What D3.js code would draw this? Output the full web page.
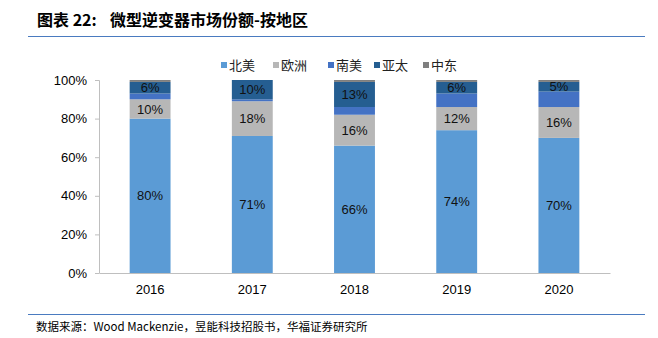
<!DOCTYPE html>
<html>
<head>
<meta charset="utf-8">
<script src="https://cdn.jsdelivr.net/npm/d3@7"></script>
<style>
body { margin: 0; background: #fff; }
svg { display: block; }
.tick text { font-family: "Liberation Sans", Arial, sans-serif; font-size: 13px; fill: #000; }
</style>
</head>
<body>
<svg width="658" height="338"></svg>
<script>
var years = ["2016", "2017", "2018", "2019", "2020"];
var seriesNames = ["北美", "欧洲", "南美", "亚太", "中东"];
var northAmerica = [80, 71, 66, 74, 70];
var europe = [10, 18, 16, 12, 16];
var southAmerica = [3, 1, 4, 7, 8];
var asiaPacific = [6, 10, 13, 6, 5];
var middleEast = [1, 0, 1, 1, 1];
var yTicks = [0, 20, 40, 60, 80, 100];
var colours = ["#5b9bd5", "#b7b7b7", "#4472c4", "#255e91", "#7f7f7f"];
var labelled = [true, true, false, true, false];

var svg = d3.select("svg");
var margin = { top: 80, left: 99, right: 48, bottom: 65 };
var width = 658 - margin.left - margin.right,
    height = 338 - margin.top - margin.bottom;

// title
svg.append("text")
    .attr("x", 37).attr("y", 26)
    .style("font-family", "'Noto Sans CJK SC', sans-serif")
    .style("font-size", "16px").style("font-weight", "bold")
    .text("图表 22:");
svg.append("text")
    .attr("x", 110).attr("y", 26)
    .style("font-family", "'Noto Sans CJK SC', sans-serif")
    .style("font-size", "16px").style("font-weight", "bold")
    .text("微型逆变器市场份额-按地区");
svg.append("line")
    .attr("x1", 28).attr("x2", 645).attr("y1", 36.5).attr("y2", 36.5)
    .attr("stroke", "#4a7bc0").attr("stroke-width", 1.2);
svg.append("line")
    .attr("x1", 28).attr("x2", 645).attr("y1", 314.5).attr("y2", 314.5)
    .attr("stroke", "#4a7bc0").attr("stroke-width", 1.2);
svg.append("text")
    .attr("x", 36).attr("y", 331)
    .style("font-family", "'Noto Sans CJK SC', sans-serif")
    .style("font-size", "11.5px")
    .text("数据来源：Wood Mackenzie，昱能科技招股书，华福证券研究所");

var rows = years.map(function (y, i) {
    return { year: y, "北美": northAmerica[i], "欧洲": europe[i], "南美": southAmerica[i], "亚太": asiaPacific[i], "中东": middleEast[i] };
});
var stacked = d3.stack().keys(seriesNames)(rows);

var x = d3.scaleBand().domain(years).range([0, width]).paddingInner(0.6).paddingOuter(0.3);
var y = d3.scaleLinear().domain([0, 100]).range([height, 0]);

var g = svg.append("g").attr("transform", "translate(" + margin.left + "," + margin.top + ")");

var yAxis = g.append("g")
    .call(d3.axisLeft(y).tickValues(yTicks).tickSize(4).tickPadding(8).tickFormat(function (d) { return d + "%"; }));
yAxis.select(".domain").attr("stroke", "#bfbfbf").attr("d", "M-4,0.5H0.5V" + (height + 0.5));
yAxis.selectAll(".tick line").attr("stroke", "#bfbfbf");

var xAxis = g.append("g").attr("transform", "translate(0," + height + ")")
    .call(d3.axisBottom(x).tickSize(0).tickPadding(12));
xAxis.select(".domain").attr("stroke", "#bfbfbf");

var layer = g.selectAll(".layer").data(stacked).enter().append("g")
    .attr("fill", function (d, i) { return colours[i]; });
layer.selectAll("rect").data(function (d) { return d; }).enter().append("rect")
    .attr("x", function (d) { return x(d.data.year); })
    .attr("width", x.bandwidth())
    .attr("y", function (d) { return y(d[1]); })
    .attr("height", function (d) { return y(d[0]) - y(d[1]); });

layer.filter(function (d, i) { return labelled[i]; })
    .selectAll("text").data(function (d) { return d; }).enter().append("text")
    .attr("x", function (d) { return x(d.data.year) + x.bandwidth() / 2; })
    .attr("y", function (d) { return (y(d[0]) + y(d[1])) / 2; })
    .attr("dy", "0.36em")
    .attr("text-anchor", "middle")
    .attr("fill", "#111")
    .style("font-family", "'Liberation Sans', Arial, sans-serif")
    .style("font-size", "13px")
    .text(function (d) { return Math.round(d[1] - d[0]) + "%"; });

// legend
var legendX = [221, 273, 328, 374, 423];
var legend = svg.append("g");
seriesNames.forEach(function (n, i) {
    legend.append("rect").attr("x", legendX[i]).attr("y", 62).attr("width", 6).attr("height", 6).attr("fill", colours[i]);
    legend.append("text").attr("x", legendX[i] + 8).attr("y", 70)
        .style("font-family", "'Noto Sans CJK SC', sans-serif")
        .style("font-size", "13px").attr("fill", "#222")
        .text(n);
});
</script>
</body>
</html>
